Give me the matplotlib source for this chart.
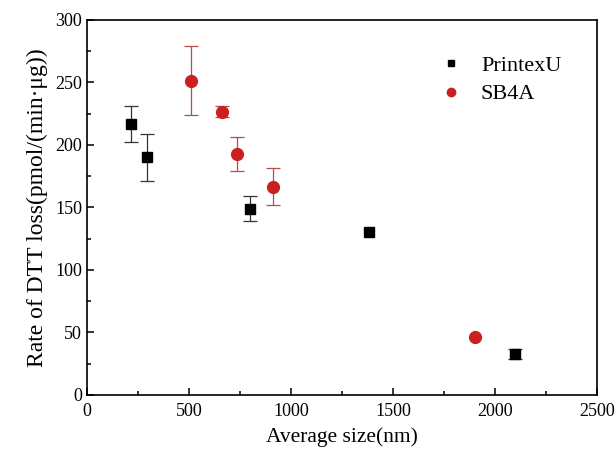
import matplotlib
matplotlib.use("Agg")
import matplotlib.pyplot as plt
from matplotlib.ticker import MultipleLocator
from matplotlib.lines import Line2D

plt.rcParams['font.family'] = ['Liberation Serif', 'DejaVu Serif']

# PrintexU
px = [216, 296, 800, 1382, 2100]
py = [217, 190, 149, 130.5, 32.5]
perr = [14.5, 18.5, 10, 0, 4]

# SB4A
sx = [511, 660, 737, 910, 1902]
sy = [251.5, 226.5, 193, 166.5, 46]
serr = [27.8, 4.3, 13.5, 14.7, 0]

fig = plt.figure(figsize=(6.16, 4.54), dpi=100)
ax = fig.add_axes([0.1412, 0.130, 0.8278, 0.826])


def draw(x, y, err, marker, color, ecolor, ms):
    keep = [i for i, e in enumerate(err) if e > 0]
    ax.errorbar([x[i] for i in keep], [y[i] for i in keep],
                yerr=[err[i] for i in keep], fmt='none', ecolor=ecolor,
                elinewidth=0.9, capsize=5, capthick=0.9, zorder=2)
    ax.plot(x, y, marker, color=color, ms=ms, ls='none', zorder=3)


draw(px, py, perr, 's', 'black', '#333333', 7.5)
draw(sx, sy, serr, 'o', '#cc1f1f', '#b84a4a', 8.5)

ax.set_xlim(0, 2500)
ax.set_ylim(0, 300)
ax.xaxis.set_major_locator(MultipleLocator(500))
ax.xaxis.set_minor_locator(MultipleLocator(250))
ax.yaxis.set_major_locator(MultipleLocator(50))
ax.yaxis.set_minor_locator(MultipleLocator(25))
ax.tick_params(which='both', direction='in', top=False, right=False,
               labelsize=13, width=1.1)
ax.tick_params(which='major', length=5)
ax.tick_params(which='minor', length=3)
ax.tick_params(axis='x', pad=6)
for s in ax.spines.values():
    s.set_linewidth(1.2)

ax.set_xlabel('Average size(nm)', fontsize=15.5, labelpad=5)
ax.set_ylabel('Rate of DTT loss(pmol/(min·μg))', fontsize=17, labelpad=5)

handles = [Line2D([], [], marker='s', color='black', ls='none', ms=5),
           Line2D([], [], marker='o', color='#cc1f1f', ls='none', ms=6)]
ax.legend(handles, ['PrintexU', 'SB4A'], loc='upper right', frameon=False,
          fontsize=16, handletextpad=0.6, borderaxespad=1.2,
          labelspacing=0.35, handlelength=1.5)

fig.savefig('out.png', dpi=100)
